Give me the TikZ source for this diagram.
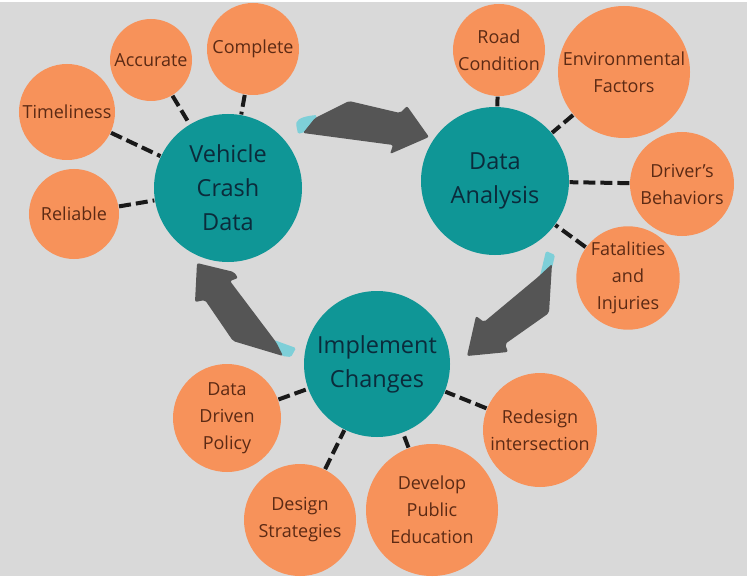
\documentclass[tikz,border=0pt]{standalone}
\usepackage{fontspec}
\setmainfont{Open Sans}
\definecolor{bg}{HTML}{D9D9D9}
\definecolor{teal1}{HTML}{0F9696}
\definecolor{orange1}{HTML}{F7925A}
\definecolor{hubtext}{HTML}{0B2B3B}
\definecolor{leaftext}{HTML}{5C2A14}
\definecolor{arrowgray}{HTML}{555555}
\definecolor{curlcyan}{HTML}{7ECFD8}
\tikzset{
  hub/.style={circle, fill=teal1, minimum size=#1, inner sep=0pt, align=center, text=hubtext, font=\fontsize{23.5bp}{34bp}\selectfont},
  leaf/.style={circle, fill=orange1, minimum size=#1, inner sep=0pt, align=center, text=leaftext, font=\fontsize{18bp}{27bp}\selectfont},
  link/.style={line width=4bp, dash pattern=on 12bp off 5bp, draw=black!90, shorten <=0.5bp, shorten >=0.5bp},
  bigarrow/.style={fill=arrowgray, rounded corners=2bp},
  curl/.style={fill=curlcyan, rounded corners=1.5bp}
}
\begin{document}
\begin{tikzpicture}[x=1bp,y=-1bp]
\fill[bg] (0,0) rectangle (747,579);
\useasboundingbox (0,0) rectangle (747,579);
\fill[white] (0,0) rectangle (747,2);
\fill[white] (0,576) rectangle (747,579);

% hubs
\node[hub=148bp] (vcd) at (228,188) {Vehicle\\Crash\\Data};
\node[hub=148bp] (da) at (495,181) {Data\\Analysis};
\node[hub=146bp] (ic) at (377,364) {Implement\\Changes};

% leaves
\node[leaf=82bp] (acc) at (151,60) {Accurate};
\node[leaf=92bp] (comp) at (253,49) {Complete};
\node[leaf=96bp] (time) at (67,112) {Timeliness};
\node[leaf=90bp] (rel) at (74,214) {Reliable};
\node[leaf=92bp] (road) at (499,50) {Road\\Condition};
\node[leaf=132bp] (env) at (624,72) {Environmental\\Factors};
\node[leaf=104bp] (drv) at (682,184) {Driver's\\Behaviors};
\node[leaf=98bp] (fat) at (628,278) {Fatalities\\and\\Injuries};
\node[leaf=108bp] (ddp) at (227,418) {Data\\Driven\\Policy};
\node[leaf=112bp] (des) at (300,520) {Design\\Strategies};
\node[leaf=132bp] (dev) at (432,510) {Develop\\Public\\Education};
\node[leaf=114bp] (red) at (540,430) {Redesign\\intersection};

% dashed links
\draw[link] (acc) -- (vcd);
\draw[link] (comp) -- (vcd);
\draw[link] (time) -- (vcd);
\draw[link] (rel) -- (vcd);
\draw[link] (road) -- (da);
\draw[link] (env) -- (da);
\draw[link] (drv) -- (da);
\draw[link] (fat) -- (da);
\draw[link] (ddp) -- (ic);
\draw[link] (des) -- (ic);
\draw[link] (dev) -- (ic);
\draw[link] (red) -- (ic);

% big arrows
% vcd -> da
\fill[curl] (296,124) .. controls (298,118) and (306,116) .. (317,115) -- (311,130) -- (298,134) -- cycle;
\fill[bigarrow] (315,118) -- (349,101) -- (400,113) -- (407,106) -- (429,137) -- (390,154) -- (393,145) -- (303,133) -- cycle;
% da -> ic
\fill[curl] (546,251) -- (555,255) -- (552,268) -- (540,276) -- cycle;
\fill[bigarrow] (538,277) -- (552,264) -- (549,313) -- (505,344) -- (508,352) -- (467,356) -- (476,316) -- (484,322) -- cycle;
% ic -> vcd
\fill[curl] (274,340) -- (296,348) -- (291,357) -- (282,356) -- cycle;
\fill[bigarrow] (197,263) -- (234,272) -- (238,278) -- (230,281) -- (276,342) -- (283,356) -- (233,341) -- (205,300) -- (195,302) -- cycle;
\end{tikzpicture}
\end{document}
